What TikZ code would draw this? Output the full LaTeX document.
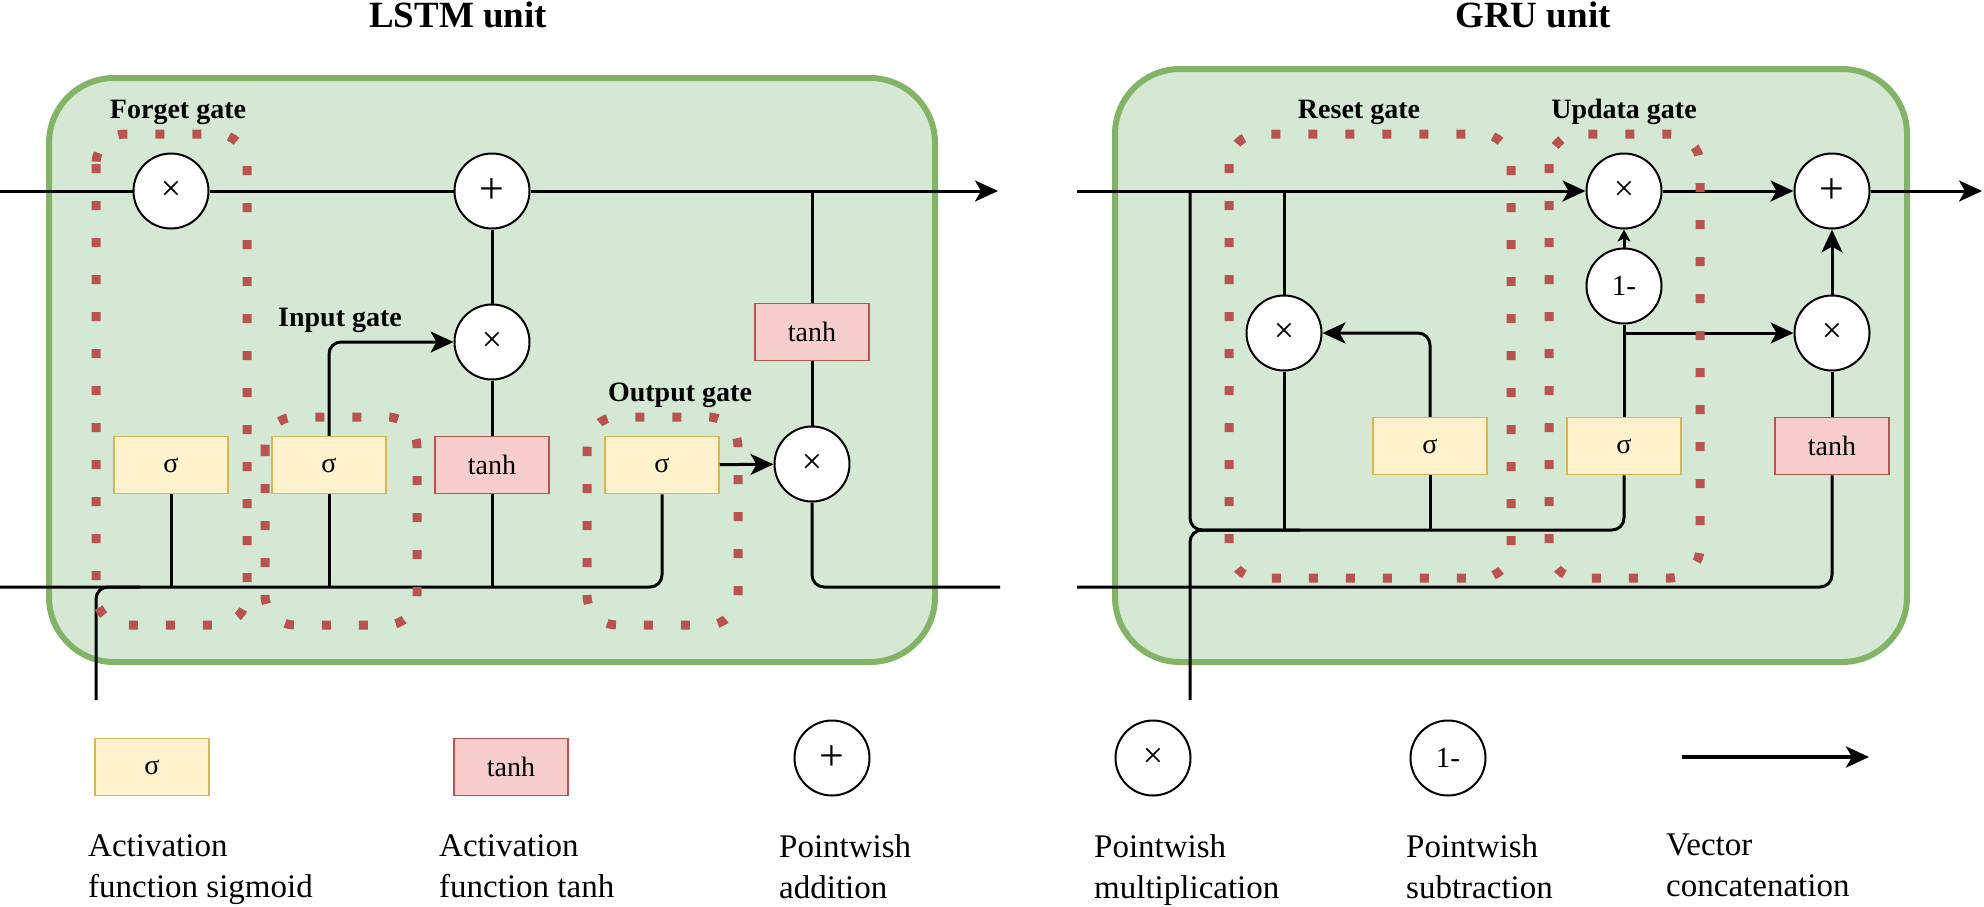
\documentclass[tikz,border=0pt]{standalone}
\usepackage{fontspec}
\setmainfont{Liberation Serif}
\usepackage{xcolor}
\definecolor{cellFill}{HTML}{D5E8D4}
\definecolor{cellLine}{HTML}{82B366}
\definecolor{sigFill}{HTML}{FFF2CC}
\definecolor{sigLine}{HTML}{D6B656}
\definecolor{tanhFill}{HTML}{F8CECC}
\definecolor{tanhLine}{HTML}{B85450}
\definecolor{gateRed}{HTML}{B85450}
\usepackage{tikz}
\usetikzlibrary{arrows.meta,calc}
\newcommand{\fsz}[2]{\fontsize{#1}{#2}\selectfont}

\begin{document}
\begin{tikzpicture}[x=1pt,y=-1pt,
  cell/.style={draw=cellLine,fill=cellFill,line width=6pt,rounded corners=65pt},
  sig/.style={draw=sigLine,fill=sigFill,line width=1.5pt,minimum width=114pt,
    minimum height=57pt,inner sep=0pt,font=\fsz{28}{34}},
  tnh/.style={sig,draw=tanhLine,fill=tanhFill},
  op/.style={circle,draw,fill=white,line width=2pt,minimum size=75pt,
    inner sep=0pt,font=\fsz{29}{35}},
  mul/.style={op,font=\fsz{36}{40}},
  add/.style={op,font=\fsz{44}{48}},
  wire/.style={line width=3pt},
  arr/.style={wire,-{Stealth[length=23pt,width=21pt,inset=6pt]}},
  arrs/.style={wire,-{Stealth[length=12pt,width=13pt,inset=3pt]}},
  gate/.style={draw=gateRed,line width=9pt,dash pattern=on 9pt off 28pt,
    rounded corners=30pt},
  lbl/.style={font=\fsz{28}{34}\bfseries,anchor=base},
  ttl/.style={font=\fsz{37}{44}\bfseries,anchor=base},
  leg/.style={font=\fsz{33}{41},align=left,anchor=north west,inner sep=0pt}]
  \useasboundingbox (0,0) rectangle (1984,906);
  \draw[cell] (49,78) rectangle (935,662);
  \draw[cell] (1115,69) rectangle (1907,662);
  \node[ttl] (tlstm) at (458,27) {LSTM unit};
  \node[ttl] (tgru) at (1533,27) {GRU unit};
  % LSTM
  \node[mul] (fx) at (171,191) {×};
  \node[add] (lp) at (492,191) {+};
  \node[mul] (ix) at (492,342) {×};
  \node[mul] (ox) at (812,464) {×};
  \node[tnh] (tc) at (812,332) {tanh};
  \node[sig] (sf) at (171,465) {σ};
  \node[sig] (si) at (329,465) {σ};
  \node[tnh] (ti) at (492,465) {tanh};
  \node[sig] (so) at (662,465) {σ};
  \coordinate (lcin) at (0,191);
  \coordinate (lcout) at (998,191);
  \coordinate (lhin) at (0,587);
  \coordinate (lhout) at (1000,587);
  \coordinate (lxin) at (96,700);
  \coordinate (lxj) at (140,587);
  \draw[wire] (lcin) -- (fx);
  \draw[wire] (fx) -- (lp);
  \draw[arr] (lp) -- (lcout);
  \draw[wire] (tc.north) -- (tc.north |- lp);
  \draw[wire] (ox) -- (tc);
  \draw[wire,rounded corners=12pt] (ox.south) |- (lhout);
  \draw[arr] (so) -- (ox);
  \draw[wire,rounded corners=12pt] (lhin) -| (so.south);
  \draw[wire,rounded corners=12pt] (lxin) |- (lxj);
  \draw[wire] (sf.south) -- (sf.south |- lhin);
  \draw[wire] (si.south) -- (si.south |- lhin);
  \draw[arr,rounded corners=12pt] (si.north) |- (ix);
  \draw[wire] (ti.south) -- (ti.south |- lhin);
  \draw[wire] (ti) -- (ix);
  \draw[wire] (ix) -- (lp);
  \draw[gate] (96,134) rectangle (247,625);
  \draw[gate] (265,417) rectangle (417,625);
  \draw[gate] (587,417) rectangle (738,625);
  \node[lbl] (lf) at (178,118) {Forget gate};
  \node[lbl] (li) at (340,326) {Input gate};
  \node[lbl] (lo) at (680,401) {Output gate};
  % GRU
  \node[mul] (rx) at (1284,333) {×};
  \node[sig] (sr) at (1430,446) {σ};
  \node[sig] (su) at (1624,446) {σ};
  \node[tnh] (tg) at (1832,446) {tanh};
  \node[mul] (ux) at (1624,191) {×};
  \node[op] (om) at (1624,286) {1-};
  \node[add] (gp) at (1832,191) {+};
  \node[mul] (gx) at (1832,333) {×};
  \coordinate (gcin) at (1077,191);
  \coordinate (gcout) at (1982,191);
  \coordinate (ghin) at (1077,587);
  \coordinate (gxin) at (1190,700);
  \coordinate (gsplit) at (1190,191);
  \coordinate (gbus) at (1300,530);
  \draw[arr] (gcin) -- (ux);
  \draw[arr] (ux) -- (gp);
  \draw[arr] (gp) -- (gcout);
  \draw[wire,rounded corners=12pt] (gsplit) |- (gbus) -| (su.south);
  \draw[wire,rounded corners=12pt] (gxin) |- (gbus);
  \draw[wire] (rx.north) -- (rx.north |- gsplit);
  \draw[wire] (rx.south) -- (rx.south |- gbus);
  \draw[wire] (sr.south) -- (sr.south |- gbus);
  \draw[arr,rounded corners=12pt] (sr.north) |- (rx);
  \draw[wire] (su.north) -- (om);
  \draw[arrs] (om) -- (ux);
  \draw[arr] (su.north |- gx) -- (gx);
  \draw[arr] (gx) -- (gp);
  \draw[wire] (gx) -- (tg);
  \draw[wire,rounded corners=12pt] (tg.south) |- (ghin);
  \draw[gate] (1229,134) rectangle (1511,578);
  \draw[gate] (1549,134) rectangle (1700,578);
  \node[lbl] (lr) at (1359,118) {Reset gate};
  \node[lbl] (lu) at (1624,118) {Updata gate};
  % legend
  \node[sig] (ks) at (152,767) {σ};
  \node[tnh] (kt) at (511,767) {tanh};
  \node[add] (kp) at (832,758) {+};
  \node[mul] (km) at (1153,758) {×};
  \node[op] (kd) at (1448,758) {1-};
  \coordinate (ka) at (1682,757);
  \coordinate (kb) at (1869,757);
  \draw[arr,line width=4pt] (ka) -- (kb);
  \node[leg] (ts) at (88,834) {Activation\\function sigmoid};
  \node[leg] (tt) at (439,834) {Activation\\function tanh};
  \node[leg] (tp) at (779,834) {Pointwish\\addition};
  \node[leg] (tm) at (1094,834) {Pointwish\\multiplication};
  \node[leg] (td) at (1406,834) {Pointwish\\subtraction};
  \node[leg] (tv) at (1666,834) {Vector\\concatenation};
\end{tikzpicture}
\end{document}
